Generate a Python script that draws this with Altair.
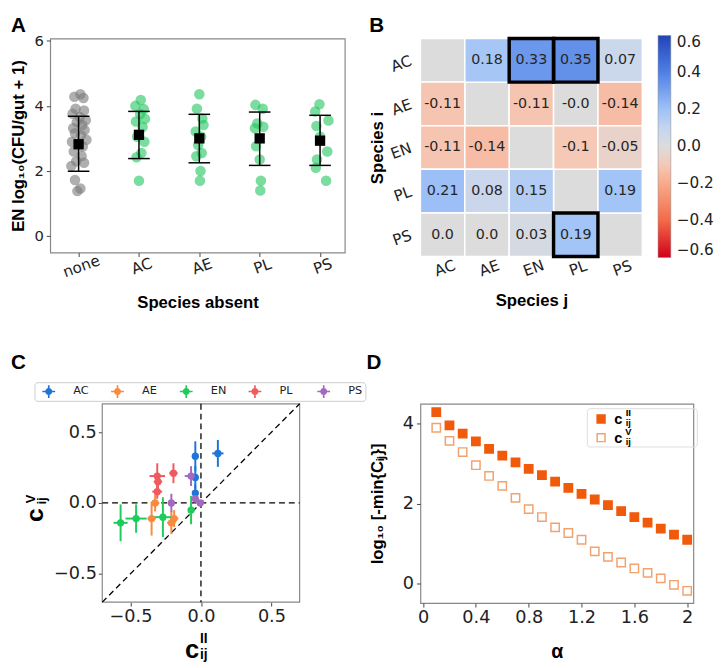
import altair as alt
import pandas as pd

# ---------------- Panel A data ----------------
a_groups = ["none", "AC", "AE", "PL", "PS"]
a_none = [4.36, 4.28, 4.24, 3.91, 3.86, 3.76, 3.66, 3.56, 3.50, 3.41, 3.31, 3.26, 3.16,
          3.10, 2.96, 2.90, 2.85, 2.75, 2.60, 2.46, 2.30, 2.25, 2.15, 1.72, 1.46, 1.38]
a_none_jit = [0.03, -0.07, 0.08, -0.05, 0.09, -0.10, 0.02, 0.12, -0.03, 0.06, -0.09, 0.10, -0.06,
              0.04, 0.13, -0.11, 0.00, 0.07, -0.08, 0.05, -0.04, 0.09, -0.12, -0.06, 0.03, -0.02]
a_ac = [4.18, 4.00, 3.90, 3.75, 3.60, 3.52, 3.35, 3.05, 2.90, 2.55, 2.42, 1.70]
a_ac_jit = [0.03, -0.06, 0.08, 0.02, 0.10, -0.05, 0.06, -0.03, 0.09, 0.04, -0.04, 0.00]
a_ae = [4.36, 3.91, 3.61, 3.41, 3.21, 3.05, 2.80, 2.55, 2.45, 2.00, 1.70]
a_ae_jit = [0.00, -0.04, 0.05, 0.07, -0.06, 0.03, -0.02, 0.04, -0.05, 0.02, 0.01]
a_pl = [4.03, 3.91, 3.46, 3.36, 3.31, 2.76, 2.35, 1.70, 1.40]
a_pl_jit = [-0.07, 0.05, -0.04, 0.06, -0.08, -0.06, 0.00, 0.02, 0.01]
a_ps = [4.05, 3.83, 3.55, 3.38, 3.05, 2.60, 2.35, 2.10, 1.70]
a_ps_jit = [-0.01, -0.08, 0.14, -0.06, 0.00, 0.12, -0.05, -0.07, 0.10]
a_mean = [2.82, 3.11, 3.00, 3.00, 2.93]
a_lo = [1.99, 2.38, 2.25, 2.17, 2.17]
a_hi = [3.68, 3.83, 3.74, 3.81, 3.71]

# ---------------- Panel B data ----------------
b_species = ["AC", "AE", "EN", "PL", "PS"]
b_AC = [None, 0.18, 0.33, 0.35, 0.07]
b_AE = [-0.11, None, -0.11, -0.0, -0.14]
b_EN = [-0.11, -0.14, None, -0.1, -0.05]
b_PL = [0.21, 0.08, 0.15, None, 0.19]
b_PS = [0.0, 0.0, 0.03, 0.19, None]
b_hl_i = ["AC", "AC", "PS"]
b_hl_j = ["EN", "PL", "PL"]
b_ticks = [-0.6, -0.4, -0.2, 0.0, 0.2, 0.4, 0.6]

# ---------------- Panel C data ----------------
c_order = ["AC", "AE", "EN", "PL", "PS"]
c_src = ["AC"] * 4 + ["AE"] * 4 + ["EN"] * 4 + ["PL"] * 4 + ["PS"] * 4
c_tgt = ["AE", "EN", "PL", "PS", "AC", "EN", "PL", "PS", "AC", "AE", "PL", "PS",
         "AC", "AE", "EN", "PS", "AC", "AE", "EN", "PL"]
c_II = [-0.04, -0.04, 0.12, -0.04, -0.35, -0.19, -0.325, -0.21, -0.46, -0.57, -0.27, -0.07,
        -0.195, -0.31, -0.305, -0.31, -0.21, -0.005, -0.04, -0.07]
c_V = [0.18, 0.33, 0.35, 0.07, -0.11, -0.11, -0.0, -0.14, -0.11, -0.14, -0.1, -0.05,
       0.21, 0.08, 0.15, 0.19, 0.0, 0.0, 0.03, 0.19]
c_xerr = [0.02, 0.02, 0.04, 0.02, 0.03, 0.03, 0.03, 0.03, 0.075, 0.05, 0.09, 0.02,
          0.03, 0.035, 0.03, 0.055, 0.025, 0.02, 0.02, 0.045]
c_yerr = [0.08, 0.105, 0.095, 0.06, 0.12, 0.06, 0.06, 0.08, 0.10, 0.13, 0.14, 0.10,
          0.07, 0.05, 0.05, 0.09, 0.065, 0.02, 0.025, 0.07]
c_colors = ["#1f74d8", "#f98a3f", "#1dcc5a", "#f05a5e", "#a568c0"]

# ---------------- Panel D data ----------------
d_alpha = [0.1, 0.2, 0.3, 0.4, 0.5, 0.6, 0.7, 0.8, 0.9, 1.0,
           1.1, 1.2, 1.3, 1.4, 1.5, 1.6, 1.7, 1.8, 1.9, 2.0]
d_cII = [4.29, 3.96, 3.75, 3.56, 3.37, 3.20, 3.03, 2.87, 2.71, 2.55,
         2.39, 2.24, 2.10, 1.96, 1.81, 1.66, 1.52, 1.37, 1.22, 1.09]
d_cV = [3.90, 3.57, 3.29, 2.96, 2.69, 2.44, 2.14, 1.86, 1.66, 1.40,
        1.26, 1.09, 0.80, 0.66, 0.52, 0.37, 0.26, 0.12, -0.04, -0.19]

dummy = pd.DataFrame({"k": [0]})
BOLD = "Liberation Sans"
TICKF = "DejaVu Sans"


def letter(t, x, y):
    return alt.Chart(dummy).mark_text(
        text=t, font=BOLD, fontWeight="bold", fontSize=21, align="left", baseline="top", color="black"
    ).encode(x=alt.value(x), y=alt.value(y))


def label(t, x, y, size, angle=0, align="left", baseline="alphabetic"):
    return alt.Chart(dummy).mark_text(
        text=t, font=BOLD, fontWeight="bold", fontSize=size, align=align, baseline=baseline,
        angle=angle, color="black"
    ).encode(x=alt.value(x), y=alt.value(y))


# ================= Panel A =================
rows = []
for k, (g, vals, jit) in enumerate(zip(a_groups, [a_none, a_ac, a_ae, a_pl, a_ps],
                                       [a_none_jit, a_ac_jit, a_ae_jit, a_pl_jit, a_ps_jit])):
    for v, d in zip(vals, jit):
        rows.append({"group": g, "kind": "control" if g == "none" else "dropout", "pos": k + d, "val": v})
dfA = pd.DataFrame(rows)
dfAs = pd.DataFrame({"group": a_groups, "pos": list(range(len(a_groups))),
                     "mean": a_mean, "lo": a_lo, "hi": a_hi})

lblexpr = "[" + ",".join("'%s'" % g for g in a_groups) + "][datum.value]"
scA_x = alt.Scale(domain=[-0.47, 4.41], nice=False, zero=False)
scA_y = alt.Scale(domain=[-0.51, 6.07], nice=False, zero=False)
axA_x = alt.Axis(values=list(range(5)), labelExpr=lblexpr, labelAngle=-20, labelAlign="center",
                 labelBaseline="top", labelFontSize=15.5, labelPadding=3, tickSize=4,
                 title="Species absent", titleFontSize=17, titlePadding=15)
axA_y = alt.Axis(values=[0, 2, 4, 6], labelFontSize=15, labelPadding=3, tickSize=4,
                 title="EN log₁₀(CFU/gut + 1)", titleFontSize=17, titlePadding=7)


def AX(f):
    return alt.X(f, type="quantitative", scale=scA_x, axis=axA_x)


def AY(f):
    return alt.Y(f, type="quantitative", scale=scA_y, axis=axA_y)


ptsA = alt.Chart(dfA).mark_circle(size=115, opacity=0.6).encode(
    x=AX("pos"), y=AY("val"),
    color=alt.Color("kind:N", scale=alt.Scale(domain=["control", "dropout"], range=["#7a7a7a", "#22c55e"]),
                    legend=None))
barsA = alt.Chart(dfAs).mark_rule(color="black", strokeWidth=1.5).encode(x=AX("pos"), y=AY("lo"), y2="hi:Q")
capLo = alt.Chart(dfAs).mark_tick(color="black", thickness=1.5, size=22, orient="horizontal", opacity=1).encode(
    x=AX("pos"), y=AY("lo"))
capHi = alt.Chart(dfAs).mark_tick(color="black", thickness=1.5, size=22, orient="horizontal", opacity=1).encode(
    x=AX("pos"), y=AY("hi"))
meanA = alt.Chart(dfAs).mark_square(color="black", size=110, opacity=1).encode(x=AX("pos"), y=AY("mean"))
chartA = alt.layer(ptsA, barsA, capLo, capHi, meanA, letter("A", -40, -24)).properties(width=300, height=218)

# ================= Panel B =================
brows = []
for si, vals in zip(b_species, [b_AC, b_AE, b_EN, b_PL, b_PS]):
    for sj, v in zip(b_species, vals):
        brows.append({"si": si, "sj": sj, "v": v, "lab": "" if v is None else str(v)})
dfB = pd.DataFrame(brows)
dfBh = pd.DataFrame({"si": b_hl_i, "sj": b_hl_j})

scB_x = alt.Scale(domain=b_species, paddingInner=0, paddingOuter=0)
scB_y = alt.Scale(domain=b_species, paddingInner=0, paddingOuter=0)
axB_x = alt.Axis(labelAngle=-20, labelAlign="center", labelBaseline="top", labelFontSize=15.5,
                 labelPadding=5, ticks=False, title="Species j", titleFontSize=17, titlePadding=14)
axB_y = alt.Axis(labelAngle=-20, labelAlign="right", labelBaseline="middle", labelFontSize=15.5,
                 labelPadding=10, ticks=False, title="Species i", titleFontSize=17, titlePadding=2)
BX = alt.X("sj:N", scale=scB_x, axis=axB_x)
BY = alt.Y("si:N", scale=scB_y, axis=axB_y)

bColScale = alt.Scale(domain=[-0.6, -0.4, -0.2, -0.1, 0.0, 0.1, 0.2, 0.4, 0.6],
                      range=["#d1001c", "#f26a48", "#f8aa8c", "#f6c8b6", "#dcdcdc",
                             "#c4d5f0", "#9fc2f7", "#4f80e6", "#2244b8"],
                      interpolate="rgb")
bLegend = alt.Legend(title=None, orient="none", legendX=242, legendY=-3, direction="vertical",
                     gradientLength=226, gradientThickness=13, gradientStrokeColor="#888888",
                     gradientStrokeWidth=0.5, values=b_ticks, format=".1f", labelFont=TICKF,
                     labelFontSize=15.5, labelColor="#222222", labelOffset=6, labelBaseline="middle",
                     labelOverlap=False, padding=0)

bgB = alt.Chart(dfB).mark_rect(fill="#dcdcdc", stroke="white", strokeWidth=1.5).encode(x=BX, y=BY)
colB = alt.Chart(dfB).transform_filter("isValid(datum.v)").mark_rect(stroke="white", strokeWidth=1.5).encode(
    x=BX, y=BY, color=alt.Color("v:Q", scale=bColScale, legend=bLegend))
txtB = alt.Chart(dfB).transform_filter("isValid(datum.v)").mark_text(
    font=TICKF, fontSize=14.5, color="#262626").encode(x=BX, y=BY, text="lab:N")
hlB = alt.Chart(dfBh).mark_rect(filled=False, stroke="black", strokeWidth=3.5).encode(x=BX, y=BY)
chartB = alt.layer(bgB, colB, txtB, hlB, letter("B", -52, -24)).properties(
    width=226, height=222, view=alt.ViewBackground(stroke="transparent"))

# ================= Panel C =================
dfC = pd.DataFrame({"src": c_src, "tgt": c_tgt, "cx": c_II, "cy": c_V, "ex": c_xerr, "ey": c_yerr})
dfC["xlo"] = dfC["cx"] - dfC["ex"]
dfC["xhi"] = dfC["cx"] + dfC["ex"]
dfC["ylo"] = dfC["cy"] - dfC["ey"]
dfC["yhi"] = dfC["cy"] + dfC["ey"]

scC_x = alt.Scale(domain=[-0.7, 0.7], range=[53, 254], nice=False, zero=False)
scC_y = alt.Scale(domain=[-0.7, 0.7], nice=False, zero=False)
axC_x = alt.Axis(values=[-0.5, 0, 0.5], format=".1f", labelFontSize=18, tickSize=4, labelPadding=2, title=None)
axC_y = alt.Axis(values=[-0.5, 0, 0.5], format=".1f", labelFontSize=18, tickSize=4, labelPadding=2,
                 title=None, offset=-53)


def CX(f=None, datum=None):
    if datum is not None:
        return alt.X(datum=datum, type="quantitative", scale=scC_x, axis=axC_x)
    return alt.X(f, type="quantitative", scale=scC_x, axis=axC_x)


def CY(f=None, datum=None):
    if datum is not None:
        return alt.Y(datum=datum, type="quantitative", scale=scC_y, axis=axC_y)
    return alt.Y(f, type="quantitative", scale=scC_y, axis=axC_y)


SYM = ("M-1,-0.13H1V0.13H-1Z M-0.13,-1H0.13V1H-0.13Z "
       "M-0.55,0A0.55,0.55,0,1,1,0.55,0A0.55,0.55,0,1,1,-0.55,0Z")
legC = alt.Legend(title=None, orient="none", legendX=-16, legendY=-22, direction="horizontal", columns=5,
                  symbolType=SYM, symbolSize=169, symbolStrokeWidth=0, symbolOpacity=1, symbolOffset=5,
                  labelOffset=18.5, columnPadding=17, gridAlign="all", labelFont=TICKF, labelFontSize=11.5,
                  labelColor="#222222", padding=3, fillColor="white", strokeColor="#cccccc",
                  cornerRadius=3)
colC = alt.Color("src:N", scale=alt.Scale(domain=c_order, range=c_colors), legend=legC)

frameC = alt.Chart(dummy).mark_rect(filled=False, stroke="#888888", strokeWidth=1.2).encode(
    x=CX(datum=-0.7), x2=alt.X2(datum=0.7), y=CY(datum=-0.7), y2=alt.Y2(datum=0.7))
dash = dict(color="black", strokeDash=[6, 4], strokeWidth=1.3)
vC = alt.Chart(dummy).mark_rule(**dash).encode(x=CX(datum=0))
hC = alt.Chart(dummy).mark_rule(**dash).encode(x=CX(datum=-0.7), x2=alt.X2(datum=0.7), y=CY(datum=0))
dC = alt.Chart(dummy).mark_rule(**dash).encode(
    x=CX(datum=-0.7), y=CY(datum=-0.7), x2=alt.X2(datum=0.7), y2=alt.Y2(datum=0.7))
eyC = alt.Chart(dfC).mark_rule(strokeWidth=2).encode(x=CX("cx"), y=CY("ylo"), y2="yhi:Q", color=colC)
exC = alt.Chart(dfC).mark_rule(strokeWidth=2).encode(x=CX("xlo"), x2="xhi:Q", y=CY("cy"), color=colC)
ptC = alt.Chart(dfC).mark_circle(size=55, opacity=1).encode(x=CX("cx"), y=CY("cy"), color=colC)

chartC = alt.layer(
    frameC, vC, hC, dC, eyC, exC, ptC,
    label("c", 144.5, 259, 26, align="center"),
    label("II", 152.5, 244, 14),
    label("ij", 152.5, 259.5, 14),
    label("c", -7, 113.5, 25, angle=270, align="center"),
    label("V", -16, 97, 13, angle=270, align="center"),
    label("ij", -4, 99, 13, angle=270, align="center"),
    letter("C", -40, -52),
).properties(width=254, height=202, view=alt.ViewBackground(stroke="transparent"))

# ================= Panel D =================
dfD = pd.DataFrame({"alpha": d_alpha + d_alpha, "val": d_cII + d_cV,
                    "series": ["II"] * len(d_alpha) + ["V"] * len(d_alpha)})
scD_x = alt.Scale(domain=[-0.02, 2.047], nice=False, zero=False)
scD_y = alt.Scale(domain=[-0.5, 4.5], nice=False, zero=False)
axD_x = alt.Axis(values=[0, 0.4, 0.8, 1.2, 1.6, 2], format="~g", labelFontSize=18, tickSize=4,
                 labelPadding=2, title="α", titleFontSize=20, titlePadding=15)
axD_y = alt.Axis(values=[0, 2, 4], labelFontSize=18, tickSize=4, labelPadding=3,
                 title="log₁₀ [-min{Cᵢⱼ}]", titleFontSize=17, titlePadding=16)
legD = alt.Legend(title=None, orient="none", legendX=170, legendY=5, symbolType="square", symbolSize=64,
                  symbolStrokeWidth=1.5, symbolOffset=3.5, labelOffset=6, rowPadding=3, padding=3,
                  labelExpr="'c'", labelFont=BOLD, labelFontWeight="bold",
                  labelFontSize=15, labelColor="black")
sqD = alt.Chart(dfD).mark_square(size=72, strokeWidth=1.5, opacity=1).encode(
    x=alt.X("alpha:Q", scale=scD_x, axis=axD_x),
    y=alt.Y("val:Q", scale=scD_y, axis=axD_y),
    fill=alt.Fill("series:N", scale=alt.Scale(domain=["II", "V"], range=["#f05a0a", "transparent"]), legend=legD),
    stroke=alt.Stroke("series:N", scale=alt.Scale(domain=["II", "V"], range=["#f05a0a", "#f2a26e"]), legend=legD),
)
boxD = alt.Chart(dummy).mark_rect(filled=False, stroke="#dddddd", strokeWidth=1, cornerRadius=3).encode(
    x=alt.value(170), x2=alt.value(282), y=alt.value(5), y2=alt.value(44))
chartD = alt.layer(
    boxD, sqD,
    label("II", 209, 12.5, 10),
    label("ij", 209, 22.5, 9.5),
    label("V", 208.5, 32, 9.5),
    label("ij", 209, 42, 9.5),
    letter("D", -55, -52),
).properties(width=278, height=203)

chart = alt.concat(
    chartA, chartB, chartC, chartD, columns=2, spacing={"row": 150, "column": 77}, bounds="flush"
).resolve_scale(
    color="independent", fill="independent", stroke="independent", x="independent", y="independent"
).properties(padding=0, background="white").configure_axis(
    labelFont=TICKF, titleFont=BOLD, titleFontWeight="bold", labelColor="#222222", titleColor="black",
    grid=False, domain=False, tickColor="#444444", tickWidth=1
).configure_view(stroke="#888888", strokeWidth=1.2)

chart.save("out.html", embed_options={"renderer": "svg", "actions": False})
